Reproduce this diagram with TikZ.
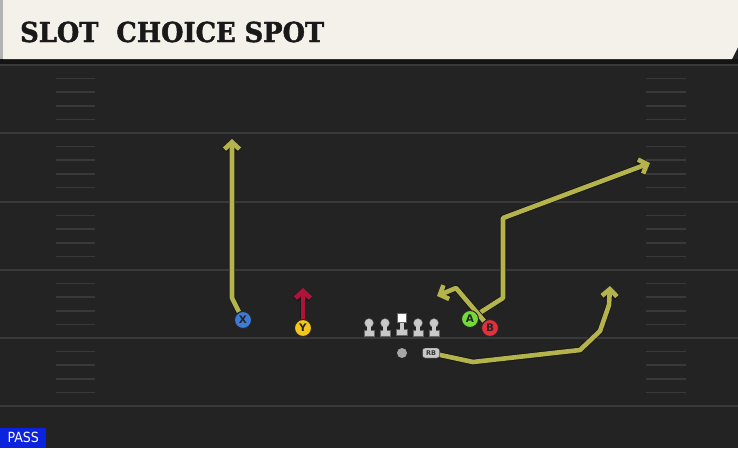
\documentclass[tikz,border=0pt]{standalone}
\usepackage{fontspec}
\setsansfont{DejaVu Sans}
\newfontfamily\titlefont[BoldFeatures={FakeBold=1.5}, FakeStretch=1.04]{DejaVu Serif Condensed}
\newfontfamily\tagfont{DejaVu Sans Condensed}
\usetikzlibrary{arrows.meta,backgrounds}

\definecolor{field}{HTML}{232323}
\definecolor{paper}{HTML}{F4F1EA}
\definecolor{fieldline}{HTML}{393939}
\definecolor{routecol}{HTML}{B5B44C}
\definecolor{hotcol}{HTML}{B0133A}
\definecolor{xblue}{HTML}{3D7BD6}
\definecolor{yyellow}{HTML}{F4C51C}
\definecolor{agreen}{HTML}{72DB3B}
\definecolor{bred}{HTML}{E2313D}
\definecolor{linecol}{HTML}{C9C9C9}
\definecolor{passblue}{HTML}{0B22DE}

\tikzset{
  player/.style={circle, draw=black!85, line width=1pt, minimum size=17pt,
    inner sep=0pt, text=black!85, font=\sffamily\bfseries\fontsize{10.5}{10.5}\selectfont},
  route/.style={draw=routecol, line width=4.6pt, line join=round,
    -{Straight Barb[length=7pt,width=15pt]},
    preaction={draw=black!90, line width=6.4pt}},
  hotroute/.style={route, draw=hotcol},
  hash/.style={draw=fieldline, line width=1.5pt},
  yard/.style={draw=fieldline, line width=2pt},
}

\begin{document}
\begin{tikzpicture}[x=1pt,y=-1pt]
\useasboundingbox (0,0) rectangle (738,448);

% players
\node[player, fill=xblue] (x) at (243,320) {X};
\node[player, fill=yyellow] (y) at (303,328) {Y};
\node[player, fill=agreen] (a) at (470,319) {A};
\node[player, fill=bred] (b) at (490,328) {B};

% backfield
\node[circle, fill=gray!70, inner sep=0pt, minimum size=10pt] (qb) at (402,353) {};
\node[draw=black!80, fill=linecol, rounded corners=2.5pt, inner sep=0pt,
  minimum width=17pt, minimum height=10pt, text=black!80,
  font=\sffamily\bfseries\fontsize{6.5}{6.5}\selectfont] (rb) at (431,353) {RB};

% route ends
\coordinate (xbend) at (232,298);
\coordinate (xend) at (232,139);
\coordinate (yend) at (303,288);
\coordinate (abend) at (503,298);
\coordinate (adeep) at (503,218);
\coordinate (aend) at (650,163);
\coordinate (bbend) at (456,288);
\coordinate (bend) at (437,296);
\coordinate (rb1) at (473,362);
\coordinate (rb2) at (580,350);
\coordinate (rb3) at (600,331);
\coordinate (rb4) at (609,305);
\coordinate (rbend) at (610,286);

\begin{pgfonlayer}{background}
% field
\fill[field] (0,0) rectangle (738,448);
\draw[yard] (0,65) -- (738,65);
\draw[yard] (0,133) -- (738,133);
\draw[yard] (0,202) -- (738,202);
\draw[yard] (0,270) -- (738,270);
\draw[yard] (0,338) -- (738,338);
\draw[yard] (0,406) -- (738,406);
\foreach \y in {65,133,202,270,338} {
  \foreach \k in {1,2,3,4} {
    \draw[hash] (56,\y+13.6*\k) -- (95,\y+13.6*\k);
    \draw[hash] (646,\y+13.6*\k) -- (686,\y+13.6*\k);
  }
}

% routes
\draw[route] (x) -- (xbend) -- (xend);
\draw[hotroute] (y) -- (yend);
\draw[route] (a) -- (abend) -- (adeep) -- (aend);
\draw[route] (b) -- (bbend) -- (bend);
\draw[route] (rb) -- (rb1) -- (rb2) -- (rb3) -- (rb4) -- (rbend);
\end{pgfonlayer}

% line
\draw[fill=linecol, draw=black!60] (369,323) circle (4.5pt);
\draw[fill=linecol, draw=black!60] (364,330) rectangle (374,336);
\fill[linecol] (367,326) rectangle (371,331);
\draw[fill=linecol, draw=black!60] (385,323) circle (4.5pt);
\draw[fill=linecol, draw=black!60] (380,330) rectangle (390,336);
\fill[linecol] (383,326) rectangle (387,331);
\draw[fill=white, draw=black!60] (397,313) rectangle (406.5,322.5);
\draw[fill=linecol, draw=black!60] (396.5,329) rectangle (407,335);
\fill[linecol] (399.5,322.5) rectangle (404,329.5);
\draw[fill=linecol, draw=black!60] (418,323) circle (4.5pt);
\draw[fill=linecol, draw=black!60] (413,330) rectangle (423,336);
\fill[linecol] (416,326) rectangle (420,331);
\draw[fill=linecol, draw=black!60] (434,323) circle (4.5pt);
\draw[fill=linecol, draw=black!60] (429,330) rectangle (439,336);
\fill[linecol] (432,326) rectangle (436,331);

% title bar
\fill[black!92] (0,59) rectangle (738,64);
\fill[paper] (3,0) -- (738,0) -- (738,47) -- (732,59) -- (3,59) -- cycle;
\fill[gray!60] (0,0) rectangle (3,59);
\node[anchor=base west, inner sep=0pt, text=black!90,
  font=\titlefont\bfseries\fontsize{27.5}{27.5}\selectfont] (title) at (20,42) {SLOT\ \ CHOICE SPOT};

% play type
\node[fill=passblue, anchor=south west, minimum width=46pt, minimum height=20pt,
  inner sep=0pt, text=white, font=\tagfont\fontsize{14}{14}\selectfont] (pass) at (0,448) {PASS};
\end{tikzpicture}
\end{document}
